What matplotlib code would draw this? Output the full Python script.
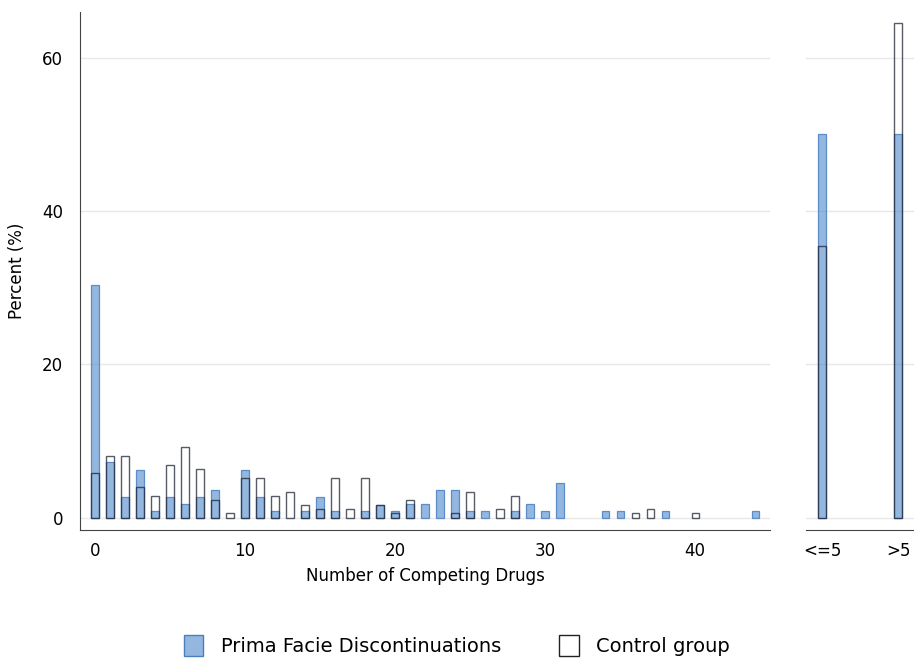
import numpy as np
import matplotlib.pyplot as plt
from matplotlib.patches import Patch

# percent of drugs by number of competitors (0..44)
n_competitors = np.arange(45)
prima_facie = [30.3, 7.2, 2.7, 6.2, 0.9, 2.7, 1.8, 2.7, 3.6, 0.0,
               6.2, 2.7, 0.9, 0.0, 0.9, 2.7, 0.9, 0.0, 0.9, 1.7,
               0.9, 1.8, 1.8, 3.6, 3.6, 0.9, 0.9, 0.0, 0.9, 1.8,
               0.9, 4.5, 0.0, 0.0, 0.9, 0.9, 0.0, 0.0, 0.9, 0.0,
               0.0, 0.0, 0.0, 0.0, 0.9]
control = [5.8, 8.0, 8.0, 4.0, 2.8, 6.9, 9.2, 6.3, 2.3, 0.6,
           5.2, 5.2, 2.8, 3.4, 1.7, 1.1, 5.1, 1.1, 5.1, 1.7,
           0.6, 2.3, 0.0, 0.0, 0.6, 3.4, 0.0, 1.1, 2.8, 0.0,
           0.0, 0.0, 0.0, 0.0, 0.0, 0.0, 0.6, 1.1, 0.0, 0.0,
           0.6, 0.0, 0.0, 0.0, 0.0]

groups = ["<=5", ">5"]
prima_facie_grp = [50.0, 50.0]
control_grp = [35.5, 64.5]

BLUE_FILL = (0.25, 0.50, 0.78, 0.56)
BLUE_EDGE = "#5b8dca"
CTRL_EDGE = (0.12, 0.14, 0.2, 0.75)

fig = plt.figure(figsize=(9.14, 6.59), dpi=100)
ax = fig.add_axes([0.0875, 0.196, 0.755, 0.786])
ax2 = fig.add_axes([0.882, 0.196, 0.118, 0.786], sharey=ax)


def draw(a, x, pf, ct, width):
    x = np.asarray(x)
    pf = np.asarray(pf)
    ct = np.asarray(ct)
    mc = ct > 0
    mp = pf > 0
    a.bar(x[mp], pf[mp], width=width, color=BLUE_FILL, edgecolor=BLUE_EDGE,
          linewidth=0.9, zorder=3)
    # control bars are outline only so the blue shows through
    a.bar(x[mc], ct[mc], width=width, color="none", edgecolor=CTRL_EDGE,
          linewidth=1.0, zorder=4)


draw(ax, n_competitors, prima_facie, control, 0.47)
draw(ax2, np.arange(len(groups)), prima_facie_grp, control_grp, 0.1)

for a in (ax, ax2):
    a.set_ylim(-1.6, 66)
    a.set_yticks([0, 20, 40, 60])
    a.grid(axis="y", color="#e8e8e8", linewidth=1.0, zorder=0)
    a.set_axisbelow(True)
    for s in ("top", "right"):
        a.spines[s].set_visible(False)
    a.spines["bottom"].set_color("#444444")
    a.tick_params(length=0, labelsize=12, colors="black", pad=9)

ax.spines["left"].set_color("#444444")
ax.set_xlim(-1, 45)
ax.set_xticks([0, 10, 20, 30, 40])
ax.tick_params(axis="y", pad=12)
ax.set_xlabel("Number of Competing Drugs", fontsize=12, labelpad=5)
ax.set_ylabel("Percent (%)", fontsize=12, labelpad=12)

ax2.spines["left"].set_visible(False)
ax2.set_xlim(-0.21, 1.21)
ax2.set_xticks(range(len(groups)))
ax2.set_xticklabels(groups)
ax2.tick_params(axis="y", labelleft=False)

handles = [Patch(facecolor=BLUE_FILL, edgecolor="#4a7fbf", linewidth=1.0),
           Patch(facecolor="white", edgecolor="#222222", linewidth=1.0)]
fig.legend(handles, ["Prima Facie Discontinuations", "Control group"],
           loc="center", bbox_to_anchor=(0.5, 0.02), ncol=2, frameon=False,
           fontsize=14, handlelength=1.0, handleheight=1.3, columnspacing=3.0,
           handletextpad=0.9)

fig.savefig("out.png", dpi=100)
